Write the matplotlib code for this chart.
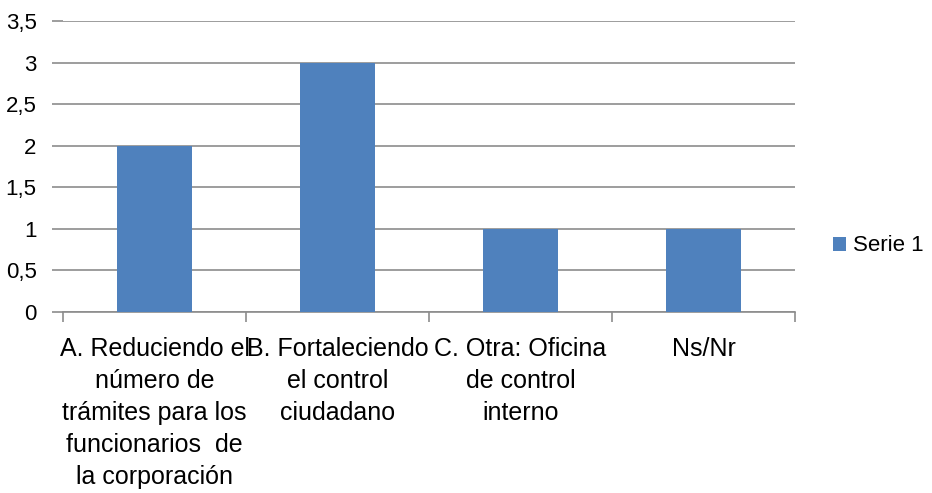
import matplotlib
matplotlib.use("Agg")
import matplotlib.pyplot as plt
from matplotlib.ticker import FuncFormatter

plt.rcParams['font.family'] = ['Liberation Sans', 'DejaVu Sans']

categories = [
    "A. Reduciendo el\nnúmero de\ntrámites para los\nfuncionarios  de\nla corporación",
    "B. Fortaleciendo\nel control\nciudadano",
    "C. Otra: Oficina\nde control\ninterno",
    "Ns/Nr",
]
values = [2, 3, 1, 1]
series_name = "Serie 1"
yticks = [0, 0.5, 1, 1.5, 2, 2.5, 3, 3.5]

W, H = 932, 493
fig = plt.figure(figsize=(W / 100, H / 100), dpi=100)
ax = fig.add_axes([63 / W, 1 - 312 / H, (795 - 63) / W, (312 - 21) / H])

x = list(range(len(categories)))
ax.bar(x, values, width=0.405, color="#4F81BD", label=series_name, zorder=3)
ax.set_xlim(-0.5, len(categories) - 0.5)
ax.set_ylim(0, 3.5)
ax.set_yticks(yticks)
ax.yaxis.set_major_formatter(FuncFormatter(lambda v, p: (f"{v:g}").replace(".", ",")))
ax.grid(axis="y", color="#8C8C8C", linewidth=1.2, zorder=0)
for s in ["top", "right", "left"]:
    ax.spines[s].set_visible(False)
ax.spines["bottom"].set_color("#8C8C8C")
ax.spines["bottom"].set_linewidth(1.2)
ax.tick_params(axis="y", length=8, color="#8C8C8C", width=1.2, labelsize=16, pad=11)
ax.set_xticks([i - 0.5 for i in range(len(categories) + 1)])
ax.set_xticklabels([])
ax.tick_params(axis="x", length=7, color="#8C8C8C", width=1.2)
for i, c in enumerate(categories):
    ax.text(i, -0.30, c, ha="center", va="top", fontsize=18, linespacing=1.42,
            transform=ax.transData, clip_on=False)

leg = fig.legend(loc="center left", bbox_to_anchor=(813 / W, 1 - 246 / H), frameon=False,
                 fontsize=16, handlelength=0.6, handleheight=0.6, handletextpad=0.3)

fig.savefig("out.png", dpi=100)
